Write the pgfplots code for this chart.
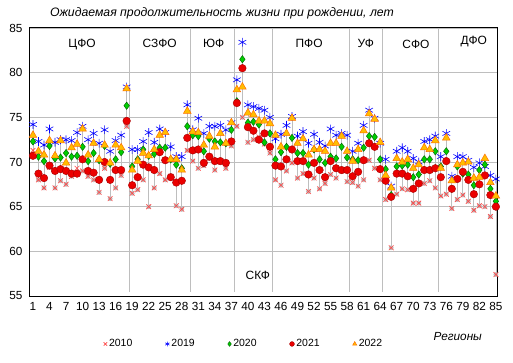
\documentclass[border=0pt]{standalone}
\usepackage{fontspec}
\setmainfont{Liberation Sans}
\usepackage{pgfplots}
\pgfplotsset{compat=1.18}
\usepackage{pgfplotstable}
\definecolor{cx}{RGB}{255,70,70}
\definecolor{cblue}{RGB}{0,0,255}
\definecolor{cgreen}{RGB}{0,205,0}
\definecolor{cgreenedge}{RGB}{0,95,0}
\definecolor{cred}{RGB}{235,0,0}
\definecolor{crededge}{RGB}{165,0,0}
\definecolor{corange}{RGB}{255,190,0}
\definecolor{corangeedge}{RGB}{255,110,0}
\definecolor{cgrid}{RGB}{190,190,190}
\pgfplotstableread{
i y10 y19 y20 y21 y22
1 71.3 74.2 72.3 70.7 73.0
2 68.0 72.3 70.6 68.7 71.2
3 67.1 71.9 70.1 68.2 70.8
4 69.4 73.7 71.8 69.6 72.4
5 67.1 72.2 70.4 69.0 70.7
6 67.9 72.5 70.5 69.2 72.4
7 67.5 72.5 71.0 69.0 69.9
8 68.4 72.4 70.6 68.7 71.6
9 69.3 73.3 70.7 68.7 72.0
10 69.0 74.0 71.7 70.3 73.7
11 68.4 72.5 70.1 69.0 70.8
12 68.0 73.2 71.0 68.8 72.1
13 66.6 72.1 70.2 68.0 70.3
14 69.3 73.6 71.8 70.0 71.9
15 65.9 71.2 69.8 68.0 69.9
16 67.1 72.4 70.3 69.1 71.9
17 68.5 73.0 71.1 69.1 71.6
18 74.0 78.4 76.3 74.6 78.2
19 66.5 71.4 69.5 67.4 69.1
20 66.9 71.4 70.3 68.3 70.1
21 68.0 72.3 71.4 69.7 71.0
22 65.0 73.3 70.7 69.4 70.7
23 67.1 72.2 70.9 69.1 71.4
24 68.7 73.7 71.6 71.1 73.0
25 68.0 73.3 71.6 70.2 73.3
26 68.4 71.7 70.3 68.3 70.3
27 65.1 70.6 69.7 67.7 70.3
28 64.7 70.6 69.3 67.9 69.1
29 71.3 76.4 74.0 72.7 75.7
30 70.1 73.6 73.0 71.3 73.4
31 69.3 74.9 72.9 71.4 73.3
32 69.6 73.2 71.2 69.9 71.9
33 70.4 74.0 72.6 70.6 72.9
34 69.1 74.0 72.3 70.1 71.7
35 70.0 74.1 72.2 70.1 73.2
36 69.3 73.6 72.1 69.9 72.1
37 71.8 74.4 73.6 72.3 74.4
38 74.0 79.2 76.8 76.6 78.1
39 75.0 83.4 81.5 80.5 78.4
40 72.2 76.4 74.4 73.9 75.5
41 72.5 76.2 74.5 73.5 75.3
42 72.8 76.0 74.2 72.5 74.6
43 72.0 75.8 72.2 73.2 74.6
44 71.0 75.0 73.2 71.7 74.3
45 68.0 72.6 70.3 69.6 73.0
46 67.4 73.1 71.1 69.5 71.7
47 69.0 74.1 71.7 70.3 73.2
48 69.9 75.1 72.7 71.4 74.9
49 68.2 72.9 71.0 70.1 72.1
50 68.7 73.4 71.0 70.1 72.6
51 66.7 72.1 69.7 68.6 70.8
52 68.2 73.1 71.4 69.9 71.4
53 67.0 72.2 70.3 69.1 71.4
54 67.6 71.8 69.9 68.3 71.2
55 68.6 73.7 70.6 70.1 72.1
56 68.2 73.0 70.4 69.3 72.1
57 69.0 73.2 71.7 69.1 72.9
58 67.8 73.0 70.5 69.1 71.2
59 67.7 71.2 70.3 68.4 70.1
60 67.3 72.1 70.2 68.9 71.4
61 68.0 74.1 71.6 70.2 73.5
62 70.2 75.8 72.9 72.1 75.4
63 69.3 74.9 72.8 71.7 74.8
64 68.0 72.1 70.3 69.2 72.2
65 65.8 70.3 69.2 67.9 68.5
66 60.4 67.3 66.3 66.1 67.1
67 66.4 71.2 69.5 68.7 70.4
68 67.0 71.6 69.6 68.7 70.0
69 66.9 71.2 69.7 68.4 70.3
70 65.4 70.4 68.3 67.0 69.3
71 65.4 70.0 68.6 67.6 69.7
72 67.6 72.3 70.3 69.1 71.6
73 67.9 72.5 70.3 69.1 71.4
74 67.1 72.9 71.2 69.3 72.4
75 66.2 70.6 69.5 68.3 69.3
76 66.4 73.2 71.2 70.1 72.7
77 64.8 68.4 67.0 67.0 67.9
78 65.8 70.6 69.5 68.1 69.7
79 66.3 70.6 68.7 68.9 69.9
80 65.6 70.2 68.6 68.0 70.0
81 64.6 69.4 67.4 66.4 68.2
82 65.1 69.9 69.1 67.5 68.3
83 65.0 69.5 69.7 68.5 70.4
84 63.9 68.5 67.0 66.3 67.7
85 57.4 68.1 65.6 65.0 66.2
}\lifedata
\begin{document}
\begin{tikzpicture}
\begin{axis}[
  scale only axis, width=467bp, height=268bp,
  xmin=0.46, xmax=85.2, ymin=55, ymax=85,
  xtick={1,4,...,85}, ytick={55,60,...,85},
  ymajorgrids, grid style={draw=cgrid, line width=0.9bp},
  major tick length=0pt,
  axis line style={line width=1bp},
  tick label style={font=\fontsize{11.8}{13}\selectfont},
  yticklabel style={xshift=-4bp},
  xticklabel style={yshift=-3bp},
  /pgf/number format/assume math mode=true,
  clip=false,
  legend columns=5,
  legend style={draw=none, fill=none, font=\fontsize{10.5}{12}\selectfont,
    at={(rel axis cs:0.458,-0.179)}, anchor=center,
    /tikz/every even column/.append style={column sep=31bp},
    inner sep=0pt},
  legend image code/.code={\draw[#1, mark size=2.4bp] plot coordinates {(0bp,0bp)};},
]
% high-low lines
\addplot [color=cgrid, line width=0.8bp, only marks, mark=none, forget plot,
  error bars/.cd, y dir=plus, y explicit, error mark=none,
  error bar style={color=cgrid, line width=0.8bp}]
  table [x=i, y expr={min(\thisrow{y10},\thisrow{y19},\thisrow{y20},\thisrow{y21},\thisrow{y22})},
         y error plus expr={max(\thisrow{y10},\thisrow{y19},\thisrow{y20},\thisrow{y21},\thisrow{y22})-min(\thisrow{y10},\thisrow{y19},\thisrow{y20},\thisrow{y21},\thisrow{y22})}] {\lifedata};
% district separators
\foreach \b in {18.5,29.5,37.5,44.5,58.5,64.5,74.5} {
  \edef\tmp{\noexpand\draw[cgrid, line width=0.9bp] (axis cs:\b,55.5) -- (axis cs:\b,85);}
  \tmp
}
\addplot [only marks, mark=x, mark size=3.4bp, color=cx, line width=0.6bp] table [x=i, y=y10] {\lifedata};
\addlegendentry{2010}
\addplot [only marks, mark=asterisk, mark size=4.4bp, color=cblue, line width=0.6bp] table [x=i, y=y19] {\lifedata};
\addlegendentry{2019}
\addplot [only marks, mark=diamond*, mark size=3.7bp, draw=cgreenedge, fill=cgreen, line width=0.4bp] table [x=i, y=y20] {\lifedata};
\addlegendentry{2020}
\addplot [only marks, mark=*, mark size=3.8bp, draw=crededge, fill=cred, line width=0.4bp] table [x=i, y=y21] {\lifedata};
\addlegendentry{2021}
\addplot [only marks, mark=triangle*, mark size=4.4bp, draw=corangeedge, fill=corange, line width=0.5bp] table [x=i, y=y22] {\lifedata};
\addlegendentry{2022}
% district labels
\begin{scope}[every node/.style={font=\fontsize{12}{14}\selectfont}]
\node at (axis cs:9.9,83.1) {ЦФО};
\node at (axis cs:24.0,83.3) {СЗФО};
\node at (axis cs:33.8,83.3) {ЮФ};
\node at (axis cs:41.8,57.3) {СКФ};
\node at (axis cs:51.1,83.3) {ПФО};
\node at (axis cs:61.4,83.3) {УФ};
\node at (axis cs:70.5,83.2) {СФО};
\node at (axis cs:81.0,83.5) {ДФО};
\end{scope}
\node[font=\fontsize{12.3}{14}\selectfont\itshape] at (rel axis cs:0.411,1.056) {Ожидаемая продолжительность жизни при рождении, лет};
\node[font=\fontsize{11.8}{13}\selectfont\itshape] at (rel axis cs:0.916,-0.153) {Регионы};
\end{axis}
\path (current axis.south west) ++(-30bp,-67bp) coordinate (bbSW);
\path (current axis.north east) ++(16bp,28bp) coordinate (bbNE);
\path[use as bounding box] (bbSW) rectangle (bbNE);
\end{tikzpicture}
\end{document}
